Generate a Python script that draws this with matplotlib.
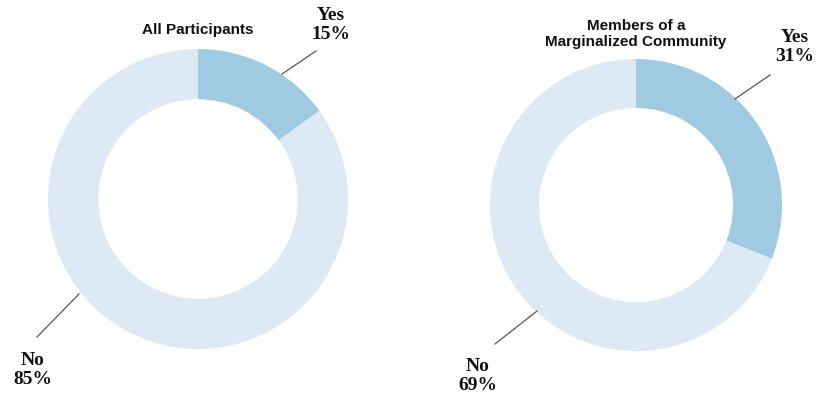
import matplotlib.pyplot as plt

# data
titles = ["All Participants", "Members of a\nMarginalized Community"]
categories = ["Yes", "No"]
shares = [[15, 85], [31, 69]]
colors = ["#9fcae2", "#dde9f5"]

W, H = 826, 402
fig = plt.figure(figsize=(W / 100, H / 100), dpi=100)
ax = fig.add_axes([0, 0, 1, 1])
ax.set_xlim(0, W)
ax.set_ylim(0, H)
ax.set_aspect("equal")
ax.axis("off")

# donut centres / radii in pixels (y from top)
centers = [(198, 200), (636, 206)]
radii = [150, 146]
title_pos = [(198, 30), (636, 34)]
# label text position, leader line start (on ring), leader line end
label_pos = [
    {"Yes": ((331, 25), (282, 75), (316, 52)), "No": ((33, 370), (79, 295), (37, 338))},
    {"Yes": ((795, 47), (735, 100), (770, 76)), "No": ((478, 376), (537, 312), (495, 345))},
]

for i in range(2):
    cx, cy = centers[i]
    r = radii[i]
    ax.pie(shares[i], colors=colors, startangle=90, counterclock=False,
           center=(cx, H - cy), radius=r,
           wedgeprops=dict(width=r * 0.335, edgecolor="none"), frame=True)
    tx, ty = title_pos[i]
    ax.text(tx, H - ty, titles[i], ha="center", va="center", fontsize=11,
            fontweight="bold", family="Liberation Sans", color="#111111",
            linespacing=1.15)
    for cat, val in zip(categories, shares[i]):
        (lx, ly), (x0, y0), (x1, y1) = label_pos[i][cat]
        ax.plot([x0, x1], [H - y0, H - y1], color="#555555", lw=0.9)
        ax.text(lx, H - ly, f"{cat}\n{val}%", ha="center", va="center",
                fontsize=14, fontweight="bold", family="Liberation Serif",
                color="#111111", linespacing=1.2)

ax.set_xlim(0, W)
ax.set_ylim(0, H)
ax.axis("off")
fig.savefig("out.png", dpi=100)
